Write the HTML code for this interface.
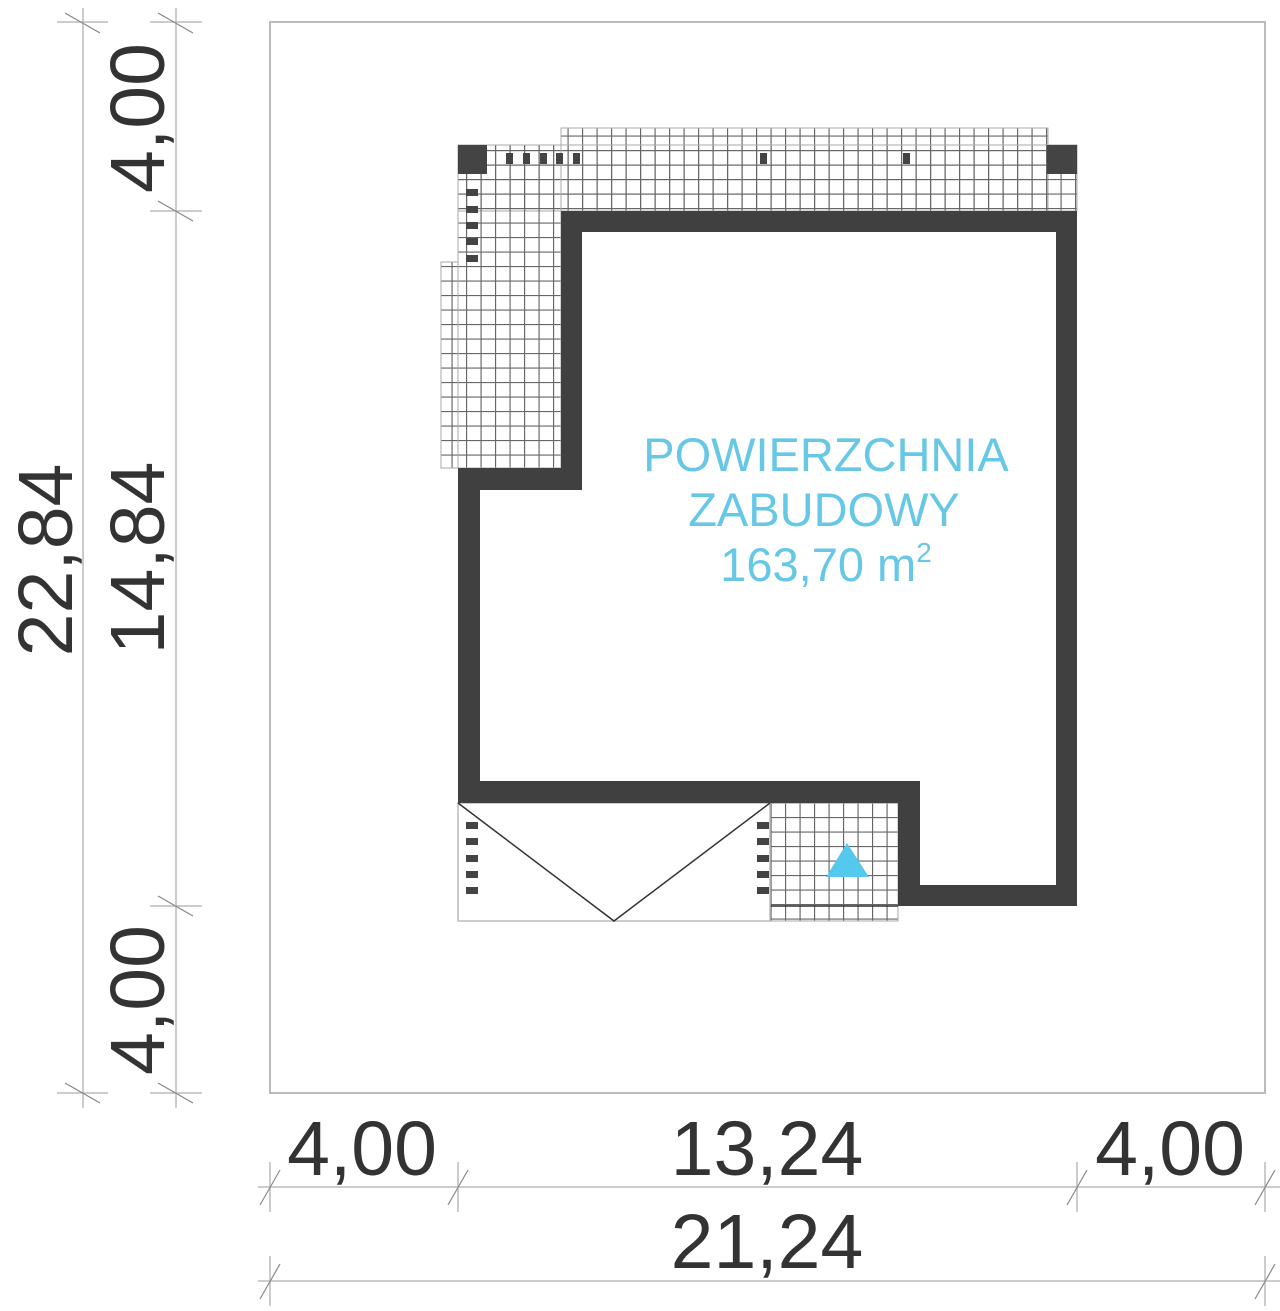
<!DOCTYPE html>
<html><head><meta charset="utf-8"><style>
html,body{margin:0;padding:0;background:#fff;}
svg{display:block;}
text{font-family:"Liberation Sans",sans-serif;}
</style></head><body>
<svg width="1280" height="1311" viewBox="0 0 1280 1311" xmlns="http://www.w3.org/2000/svg">
<defs>
<pattern id="g" width="14.5" height="14.5" patternUnits="userSpaceOnUse" x="2" y="5">
<path d="M0 0.5H14.5M0.5 0V14.5" stroke="#666" stroke-width="1.3" fill="none"/>
</pattern>
</defs>
<rect x="270" y="22" width="995" height="1071" fill="none" stroke="#bbb" stroke-width="2"/>
<rect x="561" y="128" width="487" height="83" fill="url(#g)" stroke="#aaa"/>
<rect x="458" y="145" width="619" height="66" fill="url(#g)" stroke="#aaa"/>
<rect x="458" y="145" width="103" height="323" fill="url(#g)" stroke="#aaa"/>
<rect x="441" y="262" width="17" height="206" fill="url(#g)" stroke="#aaa"/>
<rect x="770" y="803" width="128" height="118" fill="url(#g)" stroke="#aaa"/>
<line x1="770" y1="906" x2="898" y2="906" stroke="#333" stroke-width="1.5"/>
<rect x="458" y="145" width="29" height="29" fill="#444"/>
<rect x="1047" y="145" width="30" height="29" fill="#444"/>
<g fill="#444">
<rect x="506" y="153" width="7" height="11"/><rect x="523" y="153" width="7" height="11"/><rect x="540" y="153" width="7" height="11"/><rect x="556" y="153" width="7" height="11"/><rect x="573" y="153" width="7" height="11"/>
<rect x="760" y="153" width="7" height="11"/><rect x="903" y="153" width="7" height="11"/>
<rect x="466" y="189" width="12" height="7"/><rect x="466" y="206" width="12" height="7"/><rect x="466" y="222" width="12" height="7"/><rect x="466" y="238" width="12" height="7"/><rect x="466" y="255" width="12" height="7"/>
<rect x="466" y="822" width="12" height="7"/><rect x="466" y="838" width="12" height="7"/><rect x="466" y="855" width="12" height="7"/><rect x="466" y="871" width="12" height="7"/><rect x="466" y="887" width="12" height="7"/>
<rect x="757" y="822" width="12" height="7"/><rect x="757" y="838" width="12" height="7"/><rect x="757" y="855" width="12" height="7"/><rect x="757" y="871" width="12" height="7"/><rect x="757" y="887" width="12" height="7"/>
</g>
<rect x="458" y="803" width="312" height="118" fill="none" stroke="#bbb" stroke-width="1.5"/>
<polyline points="458,803 614,921 770,803" fill="none" stroke="#333" stroke-width="1.5"/>
<polygon points="826,877 847,843 869,877" fill="#55c8ee"/>
<path fill-rule="evenodd" fill="#404040" d="M561 211H1077V906H898V803H458V468H561Z M582 232V490H480V781H920V885H1056V232Z"/>
<g fill="#66c8e6" font-size="47" text-anchor="middle">
<text x="826" y="471">POWIERZCHNIA</text>
<text x="824" y="526">ZABUDOWY</text>
<text x="826" y="581">163,70 m<tspan font-size="28" dy="-19">2</tspan></text>
</g>
<g stroke="#bbb" stroke-width="1.5" fill="none">
<line x1="83" y1="8" x2="83" y2="1108"/>
<line x1="176" y1="8" x2="176" y2="1108"/>
<line x1="57" y1="22" x2="108" y2="22"/><line x1="150" y1="22" x2="202" y2="22"/>
<line x1="150" y1="211" x2="202" y2="211"/>
<line x1="150" y1="906" x2="202" y2="906"/>
<line x1="57" y1="1093" x2="108" y2="1093"/><line x1="150" y1="1093" x2="202" y2="1093"/>
<line x1="258" y1="1187" x2="1280" y2="1187"/>
<line x1="258" y1="1281" x2="1280" y2="1281"/>
<line x1="270" y1="1162" x2="270" y2="1212"/><line x1="458" y1="1162" x2="458" y2="1212"/><line x1="1077" y1="1162" x2="1077" y2="1212"/><line x1="1265" y1="1162" x2="1265" y2="1212"/>
<line x1="270" y1="1256" x2="270" y2="1306"/><line x1="1265" y1="1256" x2="1265" y2="1306"/>
</g>
<g stroke="#888" stroke-width="1.2">
<line x1="65" y1="13" x2="100" y2="33"/><line x1="158" y1="13" x2="193" y2="33"/>
<line x1="158" y1="201" x2="193" y2="221"/><line x1="158" y1="896" x2="193" y2="916"/>
<line x1="65" y1="1083" x2="100" y2="1103"/><line x1="158" y1="1083" x2="193" y2="1103"/>
<line x1="260" y1="1205" x2="280" y2="1170"/><line x1="448" y1="1205" x2="468" y2="1170"/><line x1="1067" y1="1205" x2="1087" y2="1170"/><line x1="1255" y1="1205" x2="1275" y2="1170"/>
<line x1="260" y1="1299" x2="280" y2="1264"/><line x1="1255" y1="1299" x2="1275" y2="1264"/>
</g>
<g fill="#333" font-size="77" text-anchor="middle">
<text transform="translate(72,560) rotate(-90)">22,84</text>
<text transform="translate(164,118) rotate(-90)">4,00</text>
<text transform="translate(164,558) rotate(-90)">14,84</text>
<text transform="translate(164,1000) rotate(-90)">4,00</text>
<text x="362" y="1175">4,00</text>
<text x="767" y="1175">13,24</text>
<text x="1170" y="1175">4,00</text>
<text x="767" y="1268">21,24</text>
</g>
</svg>
</body></html>
